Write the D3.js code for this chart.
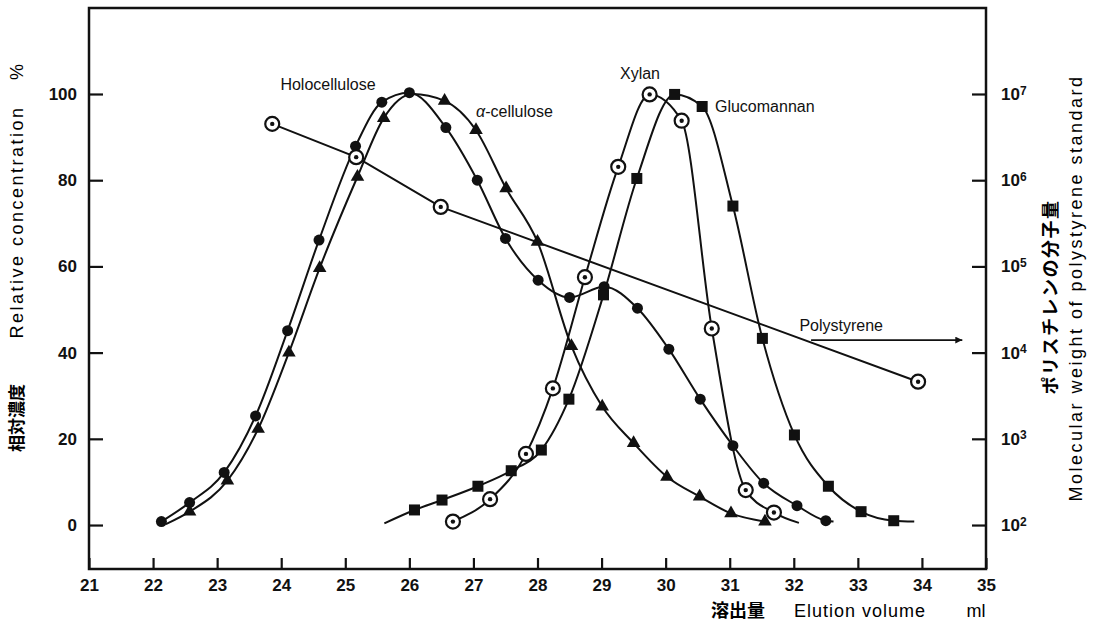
<!DOCTYPE html>
<html lang="ja">
<head>
<meta charset="UTF-8">
<title>Elution curves</title>
<script src="https://d3js.org/d3.v7.min.js"></script>
<style>
  body { margin: 0; background: #fff; }
  svg { display: block; font-family: "Liberation Sans", Arial, sans-serif; }
  .tick text { font-weight: bold; font-size: 17px; fill: #111; }
  .jp { font-family: "Noto Sans CJK JP", sans-serif; }
</style>
</head>
<body>
<div id="chart"></div>
<script>
// ticks
const xTicks = [21, 22, 23, 24, 25, 26, 27, 28, 29, 30, 31, 32, 33, 34, 35];
const yTicks = [0, 20, 40, 60, 80, 100];
const mwTicks = [1e2, 1e3, 1e4, 1e5, 1e6, 1e7];

// [elution ml, relative conc %, marker?]
const holocellulose = [
  [22.13, 0.8, 1], [22.57, 5.2, 1], [23.11, 12.2, 1], [23.60, 25.3, 1], [24.10, 45.1, 1],
  [24.59, 66.1, 1], [25.16, 87.9, 1], [25.57, 98.1, 1], [26.00, 100.3, 1], [26.57, 92.2, 1],
  [27.06, 80.0, 1], [27.50, 66.5, 1], [28.01, 56.8, 1], [28.50, 52.8, 1], [29.04, 55.3, 1],
  [29.56, 50.3, 1], [30.05, 40.8, 1], [30.54, 29.2, 1], [31.05, 18.4, 1], [31.53, 9.7, 1],
  [32.05, 4.5, 1], [32.50, 1.0, 1], [32.62, 0.8, 0]
];
const alphaCellulose = [
  [22.20, 0.2, 0], [22.57, 3.1, 1], [23.16, 10.3, 1], [23.64, 22.3, 1], [24.12, 40.0, 1],
  [24.60, 59.6, 1], [25.19, 80.8, 1], [25.60, 94.4, 1], [26.05, 100.0, 0], [26.55, 98.4, 1],
  [27.04, 91.6, 1], [27.51, 78.1, 1], [28.00, 65.7, 1], [28.53, 41.5, 1], [29.01, 27.5, 1],
  [29.50, 19.0, 1], [30.02, 11.2, 1], [30.53, 6.6, 1], [31.02, 2.7, 1], [31.55, 0.8, 1]
];
const xylan = [
  [26.68, 0.8, 1], [27.26, 6.0, 1], [27.82, 16.5, 1], [28.24, 31.7, 1], [28.74, 57.5, 1],
  [29.26, 83.1, 1], [29.75, 99.9, 1], [30.25, 93.8, 1], [30.72, 45.6, 1], [31.25, 8.1, 1],
  [31.69, 2.9, 1], [32.08, 0.5, 0]
];
const glucomannan = [
  [25.61, 0.4, 0], [26.08, 3.5, 1], [26.51, 5.8, 1], [27.07, 9.0, 1], [27.59, 12.6, 1],
  [28.06, 17.4, 1], [28.49, 29.2, 1], [29.03, 53.4, 1], [29.55, 80.4, 1], [30.14, 99.9, 1],
  [30.57, 97.1, 1], [31.05, 74.0, 1], [31.51, 43.3, 1], [32.01, 20.9, 1], [32.54, 9.0, 1],
  [33.05, 3.1, 1], [33.56, 1.0, 1], [33.88, 0.8, 0]
];
// polystyrene standard: elution ml vs molecular weight
const polyX = [23.86, 25.17, 26.49, 33.94];
const polyMW = [4.5e6, 1.85e6, 4.9e5, 4.6e3];

const W = 1093, H = 631;
const frame = { left: 89, right: 986, top: 8, bottom: 569 };

const svg = d3.select("#chart").append("svg")
  .attr("width", W).attr("height", H);

const x = d3.scaleLinear().domain([21, 35]).range([frame.left, frame.right]);
const y = d3.scaleLinear().domain([-10.2, 119.95]).range([frame.bottom, frame.top]);
const yMW = d3.scaleLog().domain([Math.pow(10, 2 - 10.2 / 20), Math.pow(10, 2 + 119.95 / 20)])
  .range([frame.bottom, frame.top]);

// frame
svg.append("rect")
  .attr("x", frame.left).attr("y", frame.top)
  .attr("width", frame.right - frame.left).attr("height", frame.bottom - frame.top)
  .attr("fill", "none").attr("stroke", "#111").attr("stroke-width", 2.5);

// axes
const gx = svg.append("g")
  .attr("transform", `translate(0,${frame.bottom})`)
  .call(d3.axisBottom(x).tickValues(xTicks).tickSizeInner(-11).tickSizeOuter(0).tickPadding(10));
const gy = svg.append("g")
  .attr("transform", `translate(${frame.left},0)`)
  .call(d3.axisLeft(y).tickValues(yTicks).tickSizeInner(-14).tickSizeOuter(0).tickPadding(12));
const gr = svg.append("g")
  .attr("transform", `translate(${frame.right},0)`)
  .call(d3.axisRight(yMW).tickValues(mwTicks).tickSizeInner(-14).tickSizeOuter(0).tickPadding(15)
    .tickFormat(() => ""));

[gx, gy, gr].forEach(g => {
  g.select(".domain").remove();
  g.selectAll(".tick line").attr("stroke", "#111").attr("stroke-width", 2.2);
});

// 10^n labels
gr.selectAll(".tick text").each(function(d) {
  const t = d3.select(this);
  t.append("tspan").text("10");
  t.append("tspan").attr("dy", "-0.45em").attr("font-size", "12px")
    .text(Math.round(Math.log10(d)));
});

// lines
const line = d3.line()
  .x(d => x(d[0]))
  .y(d => y(d[1]))
  .curve(d3.curveMonotoneX);

const series = [
  { data: holocellulose, marker: "circle" },
  { data: alphaCellulose, marker: "triangle" },
  { data: xylan, marker: "ring" },
  { data: glucomannan, marker: "square" }
];

series.forEach(s => {
  svg.append("path")
    .datum(s.data)
    .attr("fill", "none")
    .attr("stroke", "#111")
    .attr("stroke-width", 2)
    .attr("d", line);
});

// polystyrene calibration line
const polyPts = polyX.map((v, i) => [v, polyMW[i]]);
svg.append("path")
  .datum(polyPts)
  .attr("fill", "none")
  .attr("stroke", "#111")
  .attr("stroke-width", 2)
  .attr("d", d3.line().x(d => x(d[0])).y(d => yMW(d[1])));

// markers
function drawMarkers(pts, kind, yScale) {
  const g = svg.append("g");
  pts.forEach(p => {
    const cx = x(p[0]), cy = yScale(p[1]);
    if (kind === "circle") {
      g.append("circle").attr("cx", cx).attr("cy", cy).attr("r", 5.5).attr("fill", "#111");
    } else if (kind === "square") {
      g.append("rect").attr("x", cx - 5.5).attr("y", cy - 5.5)
        .attr("width", 11).attr("height", 11).attr("fill", "#111");
    } else if (kind === "triangle") {
      g.append("path").attr("transform", `translate(${cx},${cy})`)
        .attr("d", d3.symbol().type(d3.symbolTriangle).size(80)).attr("fill", "#111");
    } else {
      g.append("circle").attr("cx", cx).attr("cy", cy).attr("r", 7)
        .attr("fill", "#fff").attr("stroke", "#111").attr("stroke-width", 2.2);
      g.append("circle").attr("cx", cx).attr("cy", cy).attr("r", 2.2).attr("fill", "#111");
    }
  });
}

series.forEach(s => drawMarkers(s.data.filter(d => d[2]), s.marker, y));
drawMarkers(polyPts, "ring", yMW);

// arrow for polystyrene
const arrowY = 42.9, arrowFrom = 32.27, arrowTo = 34.63;
svg.append("defs").append("marker")
  .attr("id", "head").attr("viewBox", "0 0 10 10")
  .attr("refX", 10).attr("refY", 5)
  .attr("markerWidth", 10).attr("markerHeight", 7).attr("markerUnits", "userSpaceOnUse")
  .attr("orient", "auto")
  .append("path").attr("d", "M0,0L10,5L0,10Z").attr("fill", "#111");
svg.append("line")
  .attr("x1", x(arrowFrom)).attr("x2", x(arrowTo))
  .attr("y1", y(arrowY)).attr("y2", y(arrowY))
  .attr("stroke", "#111").attr("stroke-width", 1.8)
  .attr("marker-end", "url(#head)");

// curve labels
const labels = [
  { text: "Holocellulose", x: 24.73, y: 101.0, anchor: "middle" },
  { text: "α-cellulose", x: 27.64, y: 94.7, anchor: "middle", italicFirst: true },
  { text: "Xylan", x: 29.60, y: 103.5, anchor: "middle" },
  { text: "Glucomannan", x: 30.77, y: 95.8, anchor: "start" },
  { text: "Polystyrene", x: 32.74, y: 45.0, anchor: "middle" }
];
labels.forEach(l => {
  const t = svg.append("text")
    .attr("x", x(l.x)).attr("y", y(l.y))
    .attr("text-anchor", l.anchor)
    .attr("font-size", 16).attr("fill", "#111");
  if (l.italicFirst) {
    t.append("tspan").attr("font-style", "italic").text(l.text[0]);
    t.append("tspan").text(l.text.slice(1));
  } else {
    t.text(l.text);
  }
});

// axis titles
svg.append("text").attr("class", "jp")
  .attr("transform", "translate(23,418) rotate(-90)")
  .attr("text-anchor", "middle").attr("font-size", 17).attr("font-weight", "bold")
  .text("相対濃度");
svg.append("text")
  .attr("transform", "translate(23,222) rotate(-90)")
  .attr("text-anchor", "middle").attr("font-size", 18).attr("letter-spacing", 2.5)
  .text("Relative concentration");
svg.append("text")
  .attr("transform", "translate(23,72) rotate(-90)")
  .attr("text-anchor", "middle").attr("font-size", 18)
  .text("%");

svg.append("text").attr("class", "jp")
  .attr("transform", "translate(1057,297) rotate(-90)")
  .attr("text-anchor", "middle").attr("font-size", 18).attr("font-weight", "bold")
  .attr("letter-spacing", 1.5)
  .text("ポリスチレンの分子量");
svg.append("text")
  .attr("transform", "translate(1082,288) rotate(-90)")
  .attr("text-anchor", "middle").attr("font-size", 18).attr("letter-spacing", 2.5)
  .text("Molecular weight of polystyrene standard");

svg.append("text").attr("class", "jp")
  .attr("x", 738).attr("y", 617).attr("text-anchor", "middle")
  .attr("font-size", 18).attr("font-weight", "bold")
  .text("溶出量");
svg.append("text")
  .attr("x", 860).attr("y", 617).attr("text-anchor", "middle")
  .attr("font-size", 18).attr("letter-spacing", 1)
  .text("Elution volume");
svg.append("text")
  .attr("x", 976).attr("y", 617).attr("text-anchor", "middle")
  .attr("font-size", 18)
  .text("ml");
</script>
</body>
</html>
